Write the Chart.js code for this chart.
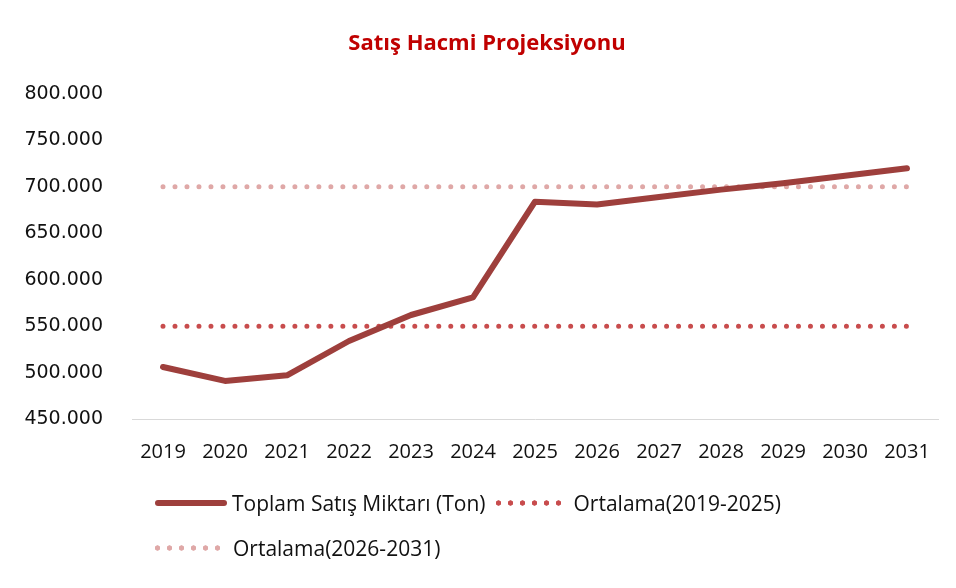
<!DOCTYPE html>
<html>
<head>
<meta charset="utf-8">
<script src="https://cdn.jsdelivr.net/npm/chart.js@4.4.1/dist/chart.umd.min.js"></script>
<style>
  html, body { margin: 0; padding: 0; background: #fff; }
  #wrap { position: relative; width: 956px; height: 588px; }
  #chart-box { position: absolute; left: 0; top: 0; width: 956px; height: 494px; }
  #title {
    position: absolute; left: 36px; width: 902px; top: 26px; text-align: center;
    font-family: 'Open Sans', sans-serif; font-size: 22px; font-weight: bold; line-height: 30px; color: #C00000;
  }
  #legend {
    position: absolute; left: 155px; top: 489px; width: 700px;
    display: flex; flex-wrap: wrap; row-gap: 17px;
    font-family: 'Open Sans', sans-serif; font-size: 21px; line-height: 28px; color: #111;
  }
  .lg-item { display: flex; align-items: center; margin-right: 10px; }
  .lg-sample { height: 6px; }
</style>
</head>
<body>
<div id="wrap">
  <div id="chart-box"><canvas id="sales-chart"></canvas></div>
  <div id="title">Satış Hacmi Projeksiyonu</div>
  <div id="legend"></div>
</div>
<script>
// Years and values (tons)
const years = ['2019', '2020', '2021', '2022', '2023', '2024', '2025', '2026', '2027', '2028', '2029', '2030', '2031'];
const totalSales = [506000, 491000, 497000, 534000, 562000, 581000, 684000, 681000, 689000, 697000, 704000, 712000, 720000];
const avg2019to2025 = [550000, 550000, 550000, 550000, 550000, 550000, 550000, 550000, 550000, 550000, 550000, 550000, 550000];
const avg2026to2031 = [700000, 700000, 700000, 700000, 700000, 700000, 700000, 700000, 700000, 700000, 700000, 700000, 700000];
const yTicks = [450000, 500000, 550000, 600000, 650000, 700000, 750000, 800000];

const seriesNames = ['Toplam Satış Miktarı (Ton)', 'Ortalama(2019-2025)', 'Ortalama(2026-2031)'];
const seriesColors = ['#9E3F3C', '#C84C4D', '#DFA8A7'];

function formatThousands(v) {
    return String(v).replace(/\B(?=(\d{3})+(?!\d))/g, '.');
}

// simple html legend, built from the datasets
const htmlLegend = {
    id: 'htmlLegend',
    afterUpdate(chart) {
        const box = document.getElementById('legend');
        box.innerHTML = '';
        chart.data.datasets.forEach(ds => {
            const item = document.createElement('div');
            item.className = 'lg-item';
            const sample = document.createElement('span');
            sample.className = 'lg-sample';
            if (ds.borderDash && ds.borderDash.length) {
                sample.style.width = '66px';
                sample.style.marginRight = '12px';
                sample.style.background = 'radial-gradient(circle at 2.5px 3px, ' + ds.borderColor + ' 2.4px, transparent 2.9px) 0 0 / 12px 6px repeat-x';
            } else {
                sample.style.width = '72px';
                sample.style.marginRight = '5px';
                sample.style.borderRadius = '3px';
                sample.style.background = ds.borderColor;
            }
            const txt = document.createElement('span');
            txt.textContent = ds.label;
            item.appendChild(sample);
            item.appendChild(txt);
            box.appendChild(item);
        });
    }
};

const ctx = document.getElementById('sales-chart').getContext('2d');

new Chart(ctx, {
    type: 'line',
    data: {
        labels: years,
        datasets: [
            {
                label: seriesNames[0],
                data: totalSales,
                borderColor: seriesColors[0],
                backgroundColor: seriesColors[0],
                borderWidth: 6,
                borderCapStyle: 'round',
                borderJoinStyle: 'round',
                pointRadius: 0,
                tension: 0
            },
            {
                label: seriesNames[1],
                data: avg2019to2025,
                borderColor: seriesColors[1],
                backgroundColor: seriesColors[1],
                borderWidth: 5,
                borderDash: [0, 11.99],
                borderCapStyle: 'round',
                pointRadius: 0
            },
            {
                label: seriesNames[2],
                data: avg2026to2031,
                borderColor: seriesColors[2],
                backgroundColor: seriesColors[2],
                borderWidth: 5,
                borderDash: [0, 11.99],
                borderCapStyle: 'round',
                pointRadius: 0
            }
        ]
    },
    options: {
        responsive: true,
        maintainAspectRatio: false,
        animation: false,
        layout: { padding: { left: 0, right: 18, top: 94, bottom: 9 } },
        scales: {
            x: {
                offset: true,
                grid: { display: false, drawTicks: false },
                border: { display: true, color: '#D9D9D9', width: 1 },
                ticks: {
                    color: '#111',
                    padding: 21,
                    font: { family: "'Open Sans', sans-serif", size: 20 }
                }
            },
            y: {
                min: 450000,
                max: 800000,
                afterFit: scale => { scale.width = 132; },
                afterBuildTicks: scale => { scale.ticks = yTicks.map(v => ({ value: v })); },
                grid: { display: false, drawTicks: false },
                border: { display: false },
                ticks: {
                    color: '#111',
                    padding: 29,
                    font: { family: "'DejaVu Sans', sans-serif", size: 19 },
                    callback: v => formatThousands(v)
                }
            }
        },
        plugins: {
            legend: { display: false },
            tooltip: { enabled: false },
            title: { display: false }
        }
    },
    plugins: [htmlLegend]
});
</script>
</body>
</html>
